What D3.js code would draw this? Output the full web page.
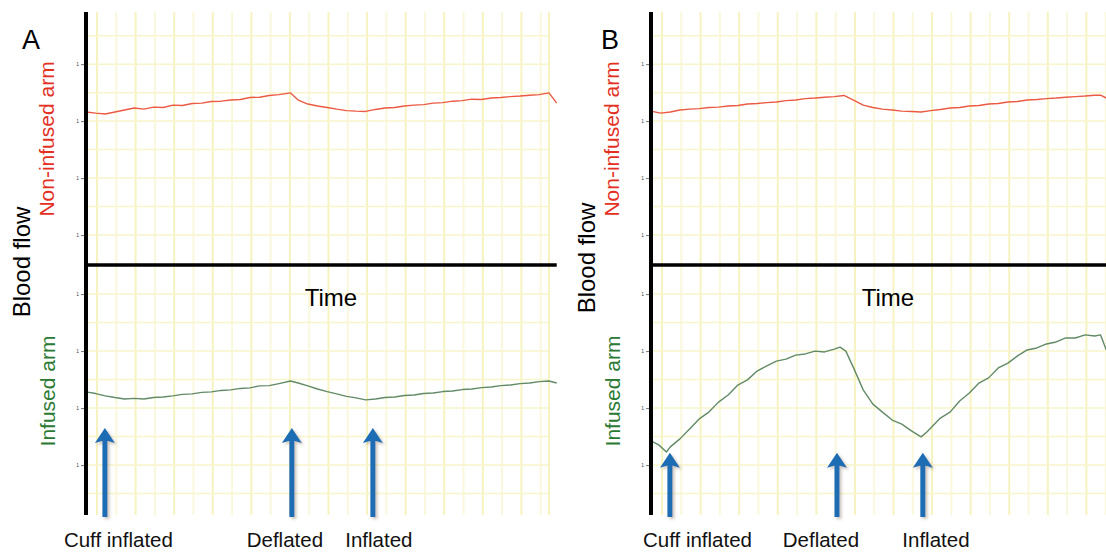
<!DOCTYPE html>
<html>
<head>
<meta charset="utf-8">
<script src="https://cdn.jsdelivr.net/npm/d3@7"></script>
<style>
  body { margin: 0; background: #fff; }
  text { font-family: "Liberation Sans", Arial, sans-serif; }
</style>
</head>
<body>
<div id="chart"></div>
<script>
// time in grid units (one yellow column = 1), flow in grid rows

// Panel A - non-infused arm (red)
const aRedTime = [0, 0.5, 1, 1.5, 2, 2.5, 3, 3.5, 4, 4.5, 5, 5.5, 6, 6.5, 7, 7.5, 8, 8.5, 9, 9.5, 10, 10.6, 11, 11.5, 12, 12.5, 13, 13.5, 14, 14.5, 15, 15.5, 16, 16.5, 17, 17.5, 18, 18.5, 19, 19.5, 20, 20.5, 21, 21.5, 22, 22.5, 23, 23.5, 24, 24.4];
const aRedFlow = [5.37, 5.33, 5.30, 5.37, 5.44, 5.51, 5.47, 5.54, 5.53, 5.61, 5.60, 5.67, 5.68, 5.74, 5.75, 5.79, 5.81, 5.88, 5.89, 5.95, 5.98, 6.04, 5.79, 5.65, 5.58, 5.53, 5.47, 5.42, 5.40, 5.39, 5.46, 5.51, 5.53, 5.58, 5.61, 5.63, 5.68, 5.70, 5.75, 5.77, 5.82, 5.81, 5.86, 5.88, 5.91, 5.93, 5.96, 5.98, 6.04, 5.68];

// Panel A - infused arm (green)
const aGreenTime = [0, 0.5, 1, 1.5, 2, 2.5, 3, 3.5, 4, 4.5, 5, 5.5, 6, 6.5, 7, 7.5, 8, 8.5, 9, 9.5, 10, 10.6, 11, 11.5, 12, 12.5, 13, 13.5, 14, 14.5, 15, 15.5, 16, 16.5, 17, 17.5, 18, 18.5, 19, 19.5, 20, 20.5, 21, 21.5, 22, 22.5, 23, 23.5, 24, 24.4];
const aGreenFlow = [4.32, 4.26, 4.18, 4.12, 4.07, 4.09, 4.07, 4.12, 4.14, 4.18, 4.23, 4.25, 4.30, 4.32, 4.37, 4.39, 4.44, 4.46, 4.53, 4.54, 4.61, 4.70, 4.63, 4.53, 4.42, 4.33, 4.25, 4.16, 4.11, 4.04, 4.07, 4.12, 4.14, 4.19, 4.21, 4.26, 4.28, 4.33, 4.35, 4.40, 4.42, 4.47, 4.49, 4.54, 4.56, 4.61, 4.63, 4.68, 4.70, 4.63];

// Panel B - non-infused arm (red)
const bRedTime = [0, 0.5, 1, 1.5, 2, 2.5, 3, 3.5, 4, 4.5, 5, 5.5, 6, 6.5, 7, 7.5, 8, 8.5, 9, 9.5, 10, 10.5, 11, 11.5, 12, 12.5, 13, 13.5, 14, 14.5, 15, 15.5, 16, 16.5, 17, 17.5, 18, 18.5, 19, 19.5, 20, 20.5, 21, 21.5, 22, 22.5, 23, 23.3, 23.6];
const bRedFlow = [5.40, 5.33, 5.37, 5.44, 5.47, 5.49, 5.53, 5.54, 5.58, 5.60, 5.65, 5.67, 5.70, 5.72, 5.77, 5.79, 5.84, 5.86, 5.89, 5.91, 5.95, 5.79, 5.61, 5.53, 5.47, 5.44, 5.40, 5.39, 5.37, 5.42, 5.46, 5.51, 5.53, 5.58, 5.60, 5.65, 5.67, 5.72, 5.74, 5.79, 5.81, 5.84, 5.86, 5.89, 5.91, 5.93, 5.96, 5.96, 5.86];

// Panel B - infused arm (green)
const bGreenTime = [0, 0.4, 0.8, 1, 1.5, 2, 2.5, 3, 3.5, 4, 4.5, 5, 5.5, 6, 6.5, 7, 7.5, 8, 8.5, 9, 9.5, 9.8, 10.1, 10.5, 11, 11.5, 12, 12.5, 13, 13.5, 14, 14.3, 14.5, 15, 15.5, 16, 16.5, 17, 17.5, 18, 18.5, 19, 19.5, 20, 20.5, 21, 21.5, 22, 22.5, 23, 23.3, 23.6];
const bGreenFlow = [2.60, 2.46, 2.21, 2.39, 2.67, 3.02, 3.37, 3.61, 3.96, 4.21, 4.56, 4.74, 5.05, 5.23, 5.40, 5.47, 5.61, 5.65, 5.75, 5.72, 5.82, 5.89, 5.75, 5.16, 4.39, 3.89, 3.61, 3.33, 3.19, 2.95, 2.74, 2.91, 3.05, 3.40, 3.61, 4.00, 4.28, 4.63, 4.81, 5.16, 5.33, 5.58, 5.79, 5.86, 6.00, 6.07, 6.21, 6.21, 6.32, 6.28, 6.32, 5.79];

// cuff events
const eventLabels = ["Cuff inflated", "Deflated", "Inflated"];
const aEventTimes = [0.98, 10.67, 14.87];
const bEventTimes = [0.98, 9.64, 14.09];
const aLabelTimes = [1.68, 10.31, 15.18];
const bLabelTimes = [2.41, 8.81, 14.77];
const aArrowTip = 3.05;
const bArrowTip = 2.18;

const topTicks = [1.05, 3.05, 5.05, 7.05];
const botTicks = [1.75, 3.75, 5.75, 7.75];

const width = 1106, height = 552;

const svg = d3.select("#chart").append("svg")
  .attr("width", width)
  .attr("height", height);

const defs = svg.append("defs");
defs.append("filter").attr("id", "shadow")
  .attr("x", "-50%").attr("y", "-20%").attr("width", "200%").attr("height", "140%")
  .append("feDropShadow")
  .attr("dx", 2).attr("dy", 2).attr("stdDeviation", 1.5)
  .attr("flood-color", "#8a7a60").attr("flood-opacity", 0.45);

const yTop = d3.scaleLinear().domain([0, 8.88]).range([265, 12]);
const yBot = d3.scaleLinear().domain([0, 8.77]).range([515, 265]);

function drawPanel(p) {
  const x = d3.scaleLinear().domain([0, 24]).range([p.x0, p.x0 + 463]);
  const g = svg.append("g");
  const gridRight = Math.min(x(24), width);

  // yellow chart paper
  const vLines = d3.range(0, 24).map(k => 0.57 + k).concat([24]);
  g.selectAll(".vgrid")
    .data(vLines.filter(d => x(d) <= width))
    .enter()
    .append("line")
    .attr("x1", d => x(d)).attr("x2", d => x(d))
    .attr("y1", yTop(8.88)).attr("y2", yBot(0))
    .attr("stroke", (d, i) => i % 2 === 0 ? "#f6f3c0" : "#faf8dc")
    .attr("stroke-width", 2);

  const hTop = d3.range(0, 8).map(k => 1.05 + k);
  g.selectAll(".hgrid-top")
    .data(hTop)
    .enter()
    .append("line")
    .attr("x1", x(0)).attr("x2", gridRight)
    .attr("y1", d => yTop(d)).attr("y2", d => yTop(d))
    .attr("stroke", "#f8f5cc")
    .attr("stroke-width", 1.5);

  const hBot = d3.range(0, 8).map(k => 0.75 + k);
  g.selectAll(".hgrid-bot")
    .data(hBot)
    .enter()
    .append("line")
    .attr("x1", x(0)).attr("x2", gridRight)
    .attr("y1", d => yBot(d)).attr("y2", d => yBot(d))
    .attr("stroke", "#f8f5cc")
    .attr("stroke-width", 1.5);

  // tiny ticks on the left axis
  const tickFmt = () => "1";
  g.append("g")
    .attr("transform", `translate(${x(0) - 2},0)`)
    .call(d3.axisLeft(yTop).tickValues(topTicks).tickSize(3).tickFormat(tickFmt))
    .call(a => a.select(".domain").remove())
    .call(a => a.selectAll("text").attr("font-size", 5).attr("fill", "#444").attr("dx", 1))
    .call(a => a.selectAll("line").attr("stroke", "#777"));
  g.append("g")
    .attr("transform", `translate(${x(0) - 2},0)`)
    .call(d3.axisLeft(yBot).tickValues(botTicks).tickSize(3).tickFormat(tickFmt))
    .call(a => a.select(".domain").remove())
    .call(a => a.selectAll("text").attr("font-size", 5).attr("fill", "#444").attr("dx", 1))
    .call(a => a.selectAll("line").attr("stroke", "#777"));

  // traces
  const lineTop = d3.line().x(d => x(d[0])).y(d => yTop(d[1]));
  const lineBot = d3.line().x(d => x(d[0])).y(d => yBot(d[1]));

  g.append("path")
    .datum(d3.zip(p.redTime, p.redFlow))
    .attr("d", lineTop)
    .attr("fill", "none")
    .attr("stroke", "#ec5a43")
    .attr("stroke-width", 1.4)
    .attr("stroke-linejoin", "round");

  g.append("path")
    .datum(d3.zip(p.greenTime, p.greenFlow))
    .attr("d", lineBot)
    .attr("fill", "none")
    .attr("stroke", "#628a66")
    .attr("stroke-width", 1.4)
    .attr("stroke-linejoin", "round");

  // axes
  g.append("line")
    .attr("x1", x(0)).attr("x2", x(0))
    .attr("y1", yTop(8.88)).attr("y2", yBot(0))
    .attr("stroke", "#000").attr("stroke-width", 4);
  g.append("line")
    .attr("x1", x(0)).attr("x2", Math.min(x(24.4), width))
    .attr("y1", yTop(0)).attr("y2", yTop(0))
    .attr("stroke", "#000").attr("stroke-width", 3.5);

  // arrows
  const arrows = g.selectAll(".arrow")
    .data(p.eventTimes)
    .enter()
    .append("g")
    .attr("filter", "url(#shadow)");
  arrows.append("line")
    .attr("x1", d => x(d)).attr("x2", d => x(d))
    .attr("y1", yBot(p.arrowTip) + 12).attr("y2", yBot(-0.07))
    .attr("stroke", "#1f6db4").attr("stroke-width", 5);
  arrows.append("path")
    .attr("d", d => {
      const cx = x(d), ty = yBot(p.arrowTip);
      return `M${cx},${ty} L${cx + 10},${ty + 15} L${cx + 3},${ty + 13} L${cx - 3},${ty + 13} L${cx - 10},${ty + 15} Z`;
    })
    .attr("fill", "#1f6db4");

  g.selectAll(".evlabel")
    .data(p.labelTimes)
    .enter()
    .append("text")
    .attr("x", d => x(d))
    .attr("y", 547)
    .attr("text-anchor", "middle")
    .attr("font-size", 20.5)
    .attr("fill", "#111")
    .text((d, i) => eventLabels[i]);

  // labels
  g.append("text")
    .attr("x", p.letterX).attr("y", 49)
    .attr("font-size", 27)
    .text(p.letter);

  const rot = (tx, ty, txt, size, color) =>
    g.append("text")
      .attr("transform", `translate(${tx},${ty}) rotate(-90)`)
      .attr("text-anchor", "middle")
      .attr("font-size", size)
      .attr("fill", color)
      .text(txt);

  rot(x(0) - 32, 139, "Non-infused arm", 21, "#e3301f");
  rot(x(0) - 56, p.bloodY, "Blood flow", 24, "#000");
  rot(x(0) - 31, 391, "Infused arm", 21, "#2b7a34");

  g.append("text")
    .attr("x", p.timeX).attr("y", 306)
    .attr("text-anchor", "middle")
    .attr("font-size", 24)
    .text("Time");
}

drawPanel({
  x0: 86, letter: "A", letterX: 22, bloodY: 262, timeX: 331,
  redTime: aRedTime, redFlow: aRedFlow,
  greenTime: aGreenTime, greenFlow: aGreenFlow,
  eventTimes: aEventTimes, labelTimes: aLabelTimes, arrowTip: aArrowTip
});

drawPanel({
  x0: 651, letter: "B", letterX: 601, bloodY: 258, timeX: 888,
  redTime: bRedTime, redFlow: bRedFlow,
  greenTime: bGreenTime, greenFlow: bGreenFlow,
  eventTimes: bEventTimes, labelTimes: bLabelTimes, arrowTip: bArrowTip
});
</script>
</body>
</html>
